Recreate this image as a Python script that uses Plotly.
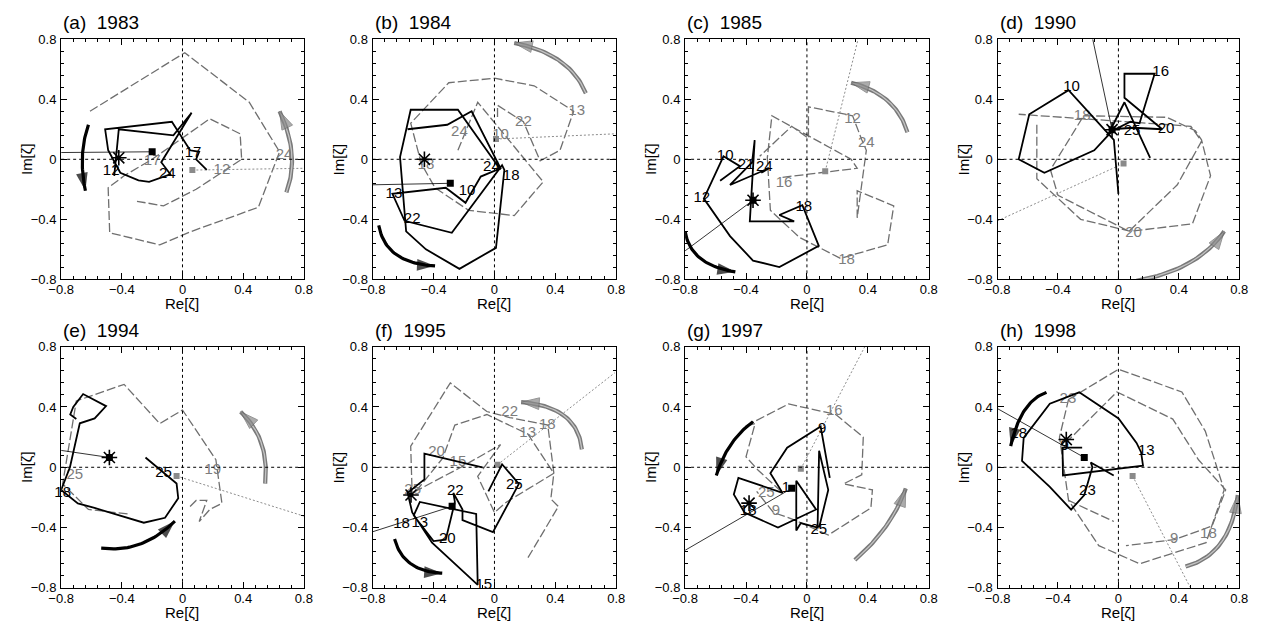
import numpy as np
import plotly.graph_objects as go

W, H = 1263, 630
FONT = "Liberation Sans, Arial, sans-serif"

# ------------------------------------------------------------------ data
PANEL_LETTERS = ["a", "b", "c", "d", "e", "f", "g", "h"]
PANEL_YEARS = ["1983", "1984", "1985", "1990", "1994", "1995", "1997", "1998"]
TICK_VALS = [-0.8, -0.4, 0, 0.4, 0.8]
TICK_TEXT = ["\u22120.8", "\u22120.4", "0", "0.4", "0.8"]
X_TITLE = "Re[\u03b6]"
Y_TITLE = "Im[\u03b6]"

# ---- (a) 1983
a_black = [(-0.45, -0.11), (-0.42, 0.20), (-0.06, 0.16), (0.06, 0.31), (-0.14, -0.02), (-0.08, -0.10),
           (-0.22, -0.15), (-0.29, -0.14), (-0.41, -0.09), (-0.49, 0.06), (-0.51, 0.20), (-0.07, 0.25),
           (0.05, 0.06), (0.11, 0.05), (0.09, 0.0), (0.16, -0.07)]
a_gray = [(-0.61, 0.32), (0.015, 0.71), (0.44, 0.38), (0.64, 0.05), (0.50, -0.32), (0.06, -0.48),
          (-0.15, -0.57), (-0.48, -0.49), (-0.49, -0.19), (-0.385, -0.11), (-0.20, 0.0), (0.18, 0.27),
          (0.38, 0.17), (0.39, 0.0), (0.09, -0.20), (-0.125, -0.31), (-0.30, -0.28)]
a_black_labels = [("12", -0.47, -0.08), ("24", -0.10, -0.10), ("17", 0.07, 0.04)]
a_gray_labels = [("17", -0.20, -0.01), ("12", 0.26, -0.07), ("24", 0.67, 0.03)]
a_black_sq = (-0.20, 0.05)
a_gray_sq = (0.065, -0.072)
a_star = (-0.42, 0.01)
a_black_dir = [(-0.8, 0.045), (-0.20, 0.05)]
a_gray_dir = [(0.065, -0.072), (0.8, -0.06)]
a_black_arrow = [(-0.62, 0.23), (-0.66, 0.02), (-0.64, -0.21)]
a_gray_arrow = [(0.685, -0.22), (0.72, 0.04), (0.64, 0.32)]

# ---- (b) 1984
b_black = [(-0.57, 0.20), (-0.31, 0.23), (-0.15, 0.32), (0.04, -0.06), (-0.09, -0.115), (-0.19, -0.29),
           (-0.32, -0.19), (-0.67, -0.23), (-0.59, -0.41), (-0.28, -0.49), (0.05, -0.04), (0.065, -0.07),
           (0.01, -0.59), (-0.23, -0.73), (-0.45, -0.60), (-0.58, -0.48), (-0.62, 0.015), (-0.55, 0.33),
           (-0.24, 0.33), (0.04, -0.07)]
b_gray = [(-0.24, 0.06), (-0.11, 0.38), (0.32, -0.15), (0.13, -0.375), (-0.17, -0.34), (-0.39, -0.19),
          (-0.48, -0.03), (-0.55, 0.24), (-0.30, 0.51), (0.0, 0.54), (0.26, 0.49), (0.52, 0.32),
          (0.43, 0.06), (0.30, -0.01), (0.19, 0.25), (0.02, 0.36), (0.02, 0.27)]
b_black_labels = [("10", -0.18, -0.21), ("13", -0.66, -0.23), ("22", -0.54, -0.40), ("24", -0.02, -0.05),
                  ("18", 0.11, -0.11)]
b_gray_labels = [("24", -0.23, 0.18), ("18", -0.45, -0.04), ("10", 0.04, 0.16), ("22", 0.19, 0.25),
                 ("13", 0.54, 0.32)]
b_black_sq = (-0.29, -0.16)
b_gray_sq = (0.01, 0.135)
b_star = (-0.46, 0.0)
b_black_dir = [(-0.8, -0.17), (-0.29, -0.16)]
b_gray_dir = [(0.01, 0.135), (0.8, 0.17)]
b_black_arrow = [(-0.76, -0.44), (-0.645, -0.635), (-0.39, -0.71)]
b_gray_arrow = [(0.60, 0.44), (0.43, 0.655), (0.13, 0.775)]

# ---- (c) 1985
c_black = [(-0.57, -0.143), (-0.44, -0.046), (-0.548, 0.02), (-0.677, -0.262), (-0.505, -0.512),
           (-0.354, -0.675), (-0.181, -0.718), (0.078, -0.577), (-0.03, -0.306), (-0.181, -0.371),
           (-0.084, -0.414), (-0.375, -0.414), (-0.343, 0.128), (-0.36, -0.02), (-0.505, -0.171),
           (-0.25, -0.06), (-0.30, -0.09)]
c_gray = [(-0.16, -0.12), (0.33, -0.06), (0.29, 0.0), (-0.23, 0.29), (-0.26, 0.01), (-0.24, -0.34),
          (-0.05, -0.52), (0.22, -0.66), (0.53, -0.57), (0.57, -0.31), (0.33, -0.21), (0.33, -0.39),
          (0.39, 0.06), (0.36, 0.13), (0.30, 0.29), (0.01, 0.35), (0.01, 0.14), (-0.10, 0.22),
          (-0.31, 0.02)]
c_black_labels = [("10", -0.537, 0.02), ("12", -0.69, -0.26), ("18", -0.02, -0.32), ("21", -0.40, -0.04),
                  ("24", -0.28, -0.05)]
c_gray_labels = [("12", 0.30, 0.27), ("24", 0.39, 0.11), ("16", -0.15, -0.16), ("18", 0.26, -0.67)]
c_black_sq = (-0.354, -0.273)
c_gray_sq = (0.12, -0.08)
c_star = (-0.354, -0.273)
c_black_dir = [(-0.8, -0.61), (-0.354, -0.273)]
c_gray_dir = [(0.12, -0.08), (0.336, 0.8)]
c_black_arrow = [(-0.8, -0.48), (-0.70, -0.66), (-0.47, -0.75)]
c_gray_arrow = [(0.66, 0.18), (0.53, 0.39), (0.29, 0.51)]

# ---- (d) 1990
d_black = [(0.0, -0.23), (-0.03, 0.13), (-0.33, 0.46), (-0.59, 0.30), (-0.66, 0.0), (-0.49, -0.09),
           (-0.16, 0.06), (-0.04, 0.19), (0.08, 0.25), (0.14, 0.24), (0.24, 0.57), (0.04, 0.57),
           (0.04, 0.41), (0.29, 0.20), (0.10, 0.21), (-0.05, 0.20), (0.04, 0.38), (0.21, 0.01)]
d_gray = [(-0.54, 0.23), (-0.54, -0.13), (-0.25, -0.40), (0.08, -0.48), (0.49, -0.43), (0.61, -0.11),
          (0.55, 0.13), (0.51, 0.19), (0.32, 0.28), (-0.23, 0.29), (-0.45, -0.07), (-0.40, -0.24),
          (0.07, -0.48), (0.39, -0.17), (0.55, 0.12), (0.48, 0.22), (-0.66, 0.30)]
d_black_labels = [("10", -0.31, 0.48), ("16", 0.28, 0.58), ("20", 0.315, 0.20), ("25", 0.09, 0.19)]
d_gray_labels = [("18", -0.24, 0.29), ("20", 0.10, -0.49)]
d_black_sq = (-0.042, 0.197)
d_gray_sq = (0.034, -0.028)
d_star = (-0.042, 0.197)
d_black_dir = [(-0.17, 0.8), (-0.042, 0.197)]
d_gray_dir = [(-0.8, -0.41), (0.034, -0.028)]
d_black_arrow = None
d_gray_arrow = [(0.12, -0.81), (0.47, -0.69), (0.70, -0.48)]

# ---- (e) 1994
e_black = [(-0.70, 0.32), (-0.74, 0.35), (-0.72, 0.40), (-0.655, 0.486), (-0.504, 0.406), (-0.579, 0.324),
           (-0.677, 0.292), (-0.742, 0.0), (-0.80, -0.15), (-0.69, -0.24), (-0.58, -0.27), (-0.255, -0.368),
           (-0.115, -0.335), (-0.028, -0.205), (-0.039, -0.108), (-0.244, 0.065)]
e_gray = [(0.05, -0.26), (0.09, -0.22), (0.16, -0.22), (0.11, -0.36), (0.18, -0.28), (0.26, -0.24),
          (0.22, 0.05), (0.0, 0.38), (-0.15, 0.29), (-0.385, 0.55), (-0.70, 0.44), (-0.79, -0.11),
          (-0.62, -0.28), (-0.36, -0.31)]
e_black_labels = [("18", -0.79, -0.17), ("25", -0.125, -0.043)]
e_gray_labels = [("25", -0.71, -0.05), ("19", 0.20, -0.02)]
e_black_sq = (-0.482, 0.065)
e_gray_sq = (-0.039, -0.058)
e_star = (-0.482, 0.065)
e_black_dir = [(-0.8, 0.112), (-0.482, 0.065)]
e_gray_dir = [(-0.039, -0.058), (0.8, -0.324)]
e_black_arrow = [(-0.536, -0.536), (-0.28, -0.51), (-0.05, -0.357)]
e_gray_arrow = [(0.545, -0.108), (0.52, 0.16), (0.383, 0.368)]

# ---- (f) 1995
f_black = [(-0.08, 0.0), (-0.46, 0.09), (-0.46, -0.08), (-0.57, -0.17), (-0.54, -0.30), (-0.41, -0.50),
           (-0.11, -0.78), (-0.12, -0.31), (-0.49, -0.23), (-0.53, -0.32), (-0.40, -0.49), (-0.32, -0.48),
           (-0.26, -0.23), (-0.27, -0.17), (-0.21, -0.28), (-0.21, -0.35), (-0.01, -0.43), (0.16, -0.11),
           (0.05, 0.02), (-0.04, -0.16)]
f_gray = [(0.22, -0.60), (0.42, -0.26), (0.37, -0.21), (0.39, -0.04), (0.35, 0.28), (0.10, 0.33),
          (-0.05, 0.37), (-0.29, 0.56), (-0.55, 0.14), (-0.54, -0.19), (-0.34, 0.06), (-0.26, 0.28),
          (-0.05, 0.35), (0.22, 0.22), (0.39, -0.04), (0.08, -0.23), (0.0, -0.30), (-0.11, -0.06),
          (0.04, 0.15), (-0.22, 0.0), (-0.52, -0.16)]
f_black_labels = [("15", -0.07, -0.78), ("20", -0.31, -0.476), ("22", -0.257, -0.162), ("25", 0.13, -0.119),
                  ("18", -0.61, -0.38), ("13", -0.49, -0.37)]
f_gray_labels = [("22", 0.10, 0.368), ("18", 0.347, 0.281), ("13", 0.218, 0.227), ("20", -0.38, 0.10),
                 ("15", -0.24, 0.03), ("25", -0.537, -0.151)]
f_black_sq = (-0.278, -0.259)
f_gray_sq = (0.02, 0.017)
f_star = (-0.548, -0.184)
f_black_dir = [(-0.8, -0.428), (-0.278, -0.259)]
f_gray_dir = [(0.02, 0.017), (0.79, 0.627)]
f_black_arrow = [(-0.656, -0.476), (-0.55, -0.64), (-0.343, -0.703)]
f_gray_arrow = [(0.574, 0.119), (0.46, 0.34), (0.175, 0.432)]

# ---- (g) 1997
g_black = [(0.15, -0.07), (0.09, 0.27), (-0.13, 0.13), (-0.24, -0.04), (-0.16, -0.17), (-0.45, -0.07),
           (-0.48, -0.18), (-0.41, -0.30), (-0.19, -0.40), (0.06, -0.28), (-0.07, -0.09), (-0.07, -0.42),
           (-0.04, -0.37), (0.07, -0.40), (0.08, 0.11), (0.14, -0.15), (0.08, -0.40)]
g_gray = [(-0.17, -0.16), (-0.32, -0.02), (-0.40, 0.07), (-0.34, 0.29), (-0.41, 0.27), (-0.12, 0.42),
          (0.19, 0.35), (0.37, 0.20), (0.36, -0.05), (0.24, -0.11), (0.43, -0.15), (0.42, -0.27),
          (0.14, -0.45), (-0.08, -0.35), (-0.22, -0.30), (-0.33, -0.16)]
g_black_labels = [("9", 0.10, 0.255), ("18", -0.386, -0.292), ("25", 0.078, -0.42), ("1", -0.138, -0.14)]
g_gray_labels = [("16", 0.18, 0.37), ("25", -0.267, -0.173), ("9", -0.203, -0.292)]
g_black_sq = (-0.10, -0.14)
g_gray_sq = (-0.04, -0.01)
g_star = (-0.38, -0.238)
g_black_dir = [(-0.8, -0.551), (-0.10, -0.14)]
g_gray_dir = [(-0.04, -0.01), (0.38, 0.8)]
g_black_arrow = [(-0.354, 0.303), (-0.50, 0.15), (-0.595, -0.054)]
g_gray_arrow = [(0.315, -0.616), (0.52, -0.39), (0.649, -0.141)]

# ---- (h) 1998
h_black = [(-0.24, 0.13), (-0.37, 0.13), (-0.367, -0.054), (0.163, 0.011), (0.15, 0.10), (0.12, 0.162),
           (0.001, 0.324), (-0.259, 0.497), (-0.454, 0.422), (-0.627, 0.195), (-0.638, 0.043),
           (-0.454, -0.13), (-0.313, -0.281), (-0.226, -0.184), (-0.172, 0.0), (-0.183, 0.032),
           (-0.031, -0.054)]
h_gray = [(-0.33, 0.45), (0.0, 0.65), (0.42, 0.50), (0.575, 0.24), (0.70, -0.15), (0.58, -0.50),
          (0.14, -0.64), (-0.13, -0.52), (-0.33, -0.22), (-0.39, 0.20), (-0.33, 0.45), None,
          (-0.35, 0.16), (-0.01, 0.50), (0.36, 0.32), (0.53, 0.05), (0.71, -0.15), (0.62, -0.39),
          (0.37, -0.48), (0.05, -0.52), None, (-0.33, -0.22), (-0.03, -0.36)]
h_black_labels = [("13", 0.185, 0.108), ("18", -0.66, 0.216), ("23", -0.205, -0.162), ("9", -0.356, 0.14)]
h_gray_labels = [("23", -0.334, 0.454), ("9", 0.369, -0.476), ("18", 0.596, -0.443)]
h_black_sq = (-0.226, 0.065)
h_gray_sq = (0.094, -0.058)
h_star = (-0.345, 0.184)
h_black_dir = [(-0.8, 0.389), (-0.226, 0.065)]
h_gray_dir = [(0.094, -0.058), (0.477, -0.8)]
h_black_arrow = [(-0.476, 0.497), (-0.62, 0.38), (-0.713, 0.141)]
h_gray_arrow = [(0.445, -0.659), (0.68, -0.50), (0.79, -0.184)]

PANELS = [
    dict(black=a_black, gray=a_gray, bl=a_black_labels, gl=a_gray_labels, bsq=a_black_sq, gsq=a_gray_sq,
         star=a_star, bdir=a_black_dir, gdir=a_gray_dir, barrow=a_black_arrow, garrow=a_gray_arrow),
    dict(black=b_black, gray=b_gray, bl=b_black_labels, gl=b_gray_labels, bsq=b_black_sq, gsq=b_gray_sq,
         star=b_star, bdir=b_black_dir, gdir=b_gray_dir, barrow=b_black_arrow, garrow=b_gray_arrow),
    dict(black=c_black, gray=c_gray, bl=c_black_labels, gl=c_gray_labels, bsq=c_black_sq, gsq=c_gray_sq,
         star=c_star, bdir=c_black_dir, gdir=c_gray_dir, barrow=c_black_arrow, garrow=c_gray_arrow),
    dict(black=d_black, gray=d_gray, bl=d_black_labels, gl=d_gray_labels, bsq=d_black_sq, gsq=d_gray_sq,
         star=d_star, bdir=d_black_dir, gdir=d_gray_dir, barrow=d_black_arrow, garrow=d_gray_arrow),
    dict(black=e_black, gray=e_gray, bl=e_black_labels, gl=e_gray_labels, bsq=e_black_sq, gsq=e_gray_sq,
         star=e_star, bdir=e_black_dir, gdir=e_gray_dir, barrow=e_black_arrow, garrow=e_gray_arrow),
    dict(black=f_black, gray=f_gray, bl=f_black_labels, gl=f_gray_labels, bsq=f_black_sq, gsq=f_gray_sq,
         star=f_star, bdir=f_black_dir, gdir=f_gray_dir, barrow=f_black_arrow, garrow=f_gray_arrow),
    dict(black=g_black, gray=g_gray, bl=g_black_labels, gl=g_gray_labels, bsq=g_black_sq, gsq=g_gray_sq,
         star=g_star, bdir=g_black_dir, gdir=g_gray_dir, barrow=g_black_arrow, garrow=g_gray_arrow),
    dict(black=h_black, gray=h_gray, bl=h_black_labels, gl=h_gray_labels, bsq=h_black_sq, gsq=h_gray_sq,
         star=h_star, bdir=h_black_dir, gdir=h_gray_dir, barrow=h_black_arrow, garrow=h_gray_arrow),
]

# ------------------------------------------------------------------ geometry (pixels)
COL_PX = [(49, 296), (366, 614), (684, 932), (1002, 1248)]
ROW_PX = [(33, 279), (348, 595)]
TITLE_Y_PX = [16, 331]

GRAY_LINE = "#6f6f6f"
GRAY_TEXT = "#7d7d7d"


def px_x(p):
    return p / W


def px_y(p):
    return 1 - p / H


def split(pts):
    xs, ys = [], []
    for p in pts:
        if p is None:
            xs.append(None)
            ys.append(None)
        else:
            xs.append(p[0])
            ys.append(p[1])
    return xs, ys


def bezier(ctrl, n=40):
    s, m, e = (np.array(p, dtype=float) for p in ctrl)
    c = 2 * m - (s + e) / 2
    t = np.linspace(0, 1, n)[:, None]
    pts = (1 - t) ** 2 * s + 2 * (1 - t) * t * c + t ** 2 * e
    return pts[:, 0], pts[:, 1]


fig = go.Figure()
layout = dict(width=W, height=H, margin=dict(l=0, r=0, t=0, b=0), paper_bgcolor="white",
              plot_bgcolor="white", showlegend=False, font=dict(family=FONT, color="black"),
              hovermode=False)
annotations = []
shapes = []

for i, P in enumerate(PANELS):
    row, col = divmod(i, 4)
    k = "" if i == 0 else str(i + 1)
    xa, ya = "x" + k, "y" + k
    x0, x1 = COL_PX[col]
    yt, yb = ROW_PX[row]
    axis_common = dict(range=[-0.8, 0.8], tickmode="array", tickvals=TICK_VALS, ticktext=TICK_TEXT,
                       ticks="inside", ticklen=6, tickwidth=1, tickcolor="black",
                       minor=dict(ticks="inside", ticklen=3, dtick=0.08, tick0=-0.8, tickcolor="black",
                                  tickwidth=1),
                       showline=True, linecolor="black", linewidth=1.2, mirror="allticks",
                       showgrid=False, zeroline=False, tickfont=dict(size=13, family=FONT, color="black"),
                       fixedrange=True)
    layout["xaxis" + k] = dict(axis_common, domain=[px_x(x0), px_x(x1)], anchor=ya, ticklabelstandoff=-2)
    layout["yaxis" + k] = dict(axis_common, domain=[px_y(yb), px_y(yt)], anchor=xa, ticklabelstandoff=1)

    # dotted zero lines
    shapes.append(dict(type="line", xref=xa, yref=ya + " domain", x0=0, x1=0, y0=0, y1=1,
                       line=dict(color="black", width=1, dash="dot")))
    shapes.append(dict(type="line", xref=xa + " domain", yref=ya, x0=0, x1=1, y0=0, y1=0,
                       line=dict(color="black", width=1, dash="dot")))

    # gray dashed trajectory
    gx, gy = split(P["gray"])
    fig.add_trace(go.Scatter(x=gx, y=gy, mode="lines", xaxis=xa, yaxis=ya,
                             line=dict(color=GRAY_LINE, width=1.3, dash="9px,3px")))
    # gray direction line
    dx, dy = split(P["gdir"])
    fig.add_trace(go.Scatter(x=dx, y=dy, mode="lines", xaxis=xa, yaxis=ya,
                             line=dict(color="#8c8c8c", width=1, dash="2px,2px")))
    # gray labels
    fig.add_trace(go.Scatter(x=[l[1] for l in P["gl"]], y=[l[2] for l in P["gl"]],
                             text=[l[0] for l in P["gl"]], mode="text", xaxis=xa, yaxis=ya,
                             textfont=dict(size=15, color=GRAY_TEXT, family=FONT), cliponaxis=False))
    # gray square
    fig.add_trace(go.Scatter(x=[P["gsq"][0]], y=[P["gsq"][1]], mode="markers", xaxis=xa, yaxis=ya,
                             marker=dict(symbol="square", size=6, color="#8a8a8a")))

    # black trajectory
    bx, by = split(P["black"])
    fig.add_trace(go.Scatter(x=bx, y=by, mode="lines", xaxis=xa, yaxis=ya,
                             line=dict(color="black", width=1.8)))
    # black direction line
    dx, dy = split(P["bdir"])
    fig.add_trace(go.Scatter(x=dx, y=dy, mode="lines", xaxis=xa, yaxis=ya,
                             line=dict(color="black", width=0.8)))
    # black square + star
    fig.add_trace(go.Scatter(x=[P["bsq"][0]], y=[P["bsq"][1]], mode="markers", xaxis=xa, yaxis=ya,
                             marker=dict(symbol="square", size=7, color="black")))
    fig.add_trace(go.Scatter(x=[P["star"][0]], y=[P["star"][1]], mode="markers", xaxis=xa, yaxis=ya,
                             marker=dict(symbol="asterisk-open", size=13, color="black",
                                         line=dict(color="black", width=1.6))))
    # black labels
    fig.add_trace(go.Scatter(x=[l[1] for l in P["bl"]], y=[l[2] for l in P["bl"]],
                             text=[l[0] for l in P["bl"]], mode="text", xaxis=xa, yaxis=ya,
                             textfont=dict(size=15, color="black", family=FONT), cliponaxis=False))

    # curved arrows
    if P["garrow"] is not None:
        cx, cy = bezier(P["garrow"])
        fig.add_trace(go.Scatter(x=cx, y=cy, mode="lines", xaxis=xa, yaxis=ya, cliponaxis=False,
                                 line=dict(color="#7a7a7a", width=4.2)))
        fig.add_trace(go.Scatter(x=cx, y=cy, mode="lines", xaxis=xa, yaxis=ya, cliponaxis=False,
                                 line=dict(color="#c4c4c4", width=1.3)))
        fig.add_trace(go.Scatter(x=cx[-3:], y=cy[-3:], mode="markers", xaxis=xa, yaxis=ya,
                                 cliponaxis=False,
                                 marker=dict(symbol="arrow", size=[0, 0, 19], angleref="previous",
                                             color="#8a8a8a", line=dict(width=1, color="#6a6a6a"))))
    if P["barrow"] is not None:
        cx, cy = bezier(P["barrow"])
        fig.add_trace(go.Scatter(x=cx, y=cy, mode="lines", xaxis=xa, yaxis=ya, cliponaxis=False,
                                 line=dict(color="black", width=3.2)))
        fig.add_trace(go.Scatter(x=cx[-3:], y=cy[-3:], mode="markers", xaxis=xa, yaxis=ya,
                                 cliponaxis=False,
                                 marker=dict(symbol="arrow", size=[0, 0, 19], angleref="previous",
                                             color="black", line=dict(width=0))))

    # titles and axis labels
    annotations.append(dict(text=f"({PANEL_LETTERS[i]})\u00a0\u00a0{PANEL_YEARS[i]}", xref="paper",
                            yref="paper", x=px_x(x0), y=px_y(TITLE_Y_PX[row]), xanchor="left",
                            yanchor="middle", showarrow=False,
                            font=dict(size=19, family=FONT, color="black")))
    annotations.append(dict(text=X_TITLE, xref="paper", yref="paper", x=px_x((x0 + x1) / 2),
                            y=px_y(yb + 25), xanchor="center", yanchor="middle", showarrow=False,
                            font=dict(size=15, family=FONT, color="black")))
    annotations.append(dict(text=Y_TITLE, xref="paper", yref="paper", x=px_x(x0 - 35),
                            y=px_y((yt + yb) / 2), xanchor="center", yanchor="middle", showarrow=False,
                            textangle=-90, font=dict(size=15, family=FONT, color="black")))

layout["annotations"] = annotations
layout["shapes"] = shapes
fig.update_layout(**layout)
fig.write_html("out.html")
